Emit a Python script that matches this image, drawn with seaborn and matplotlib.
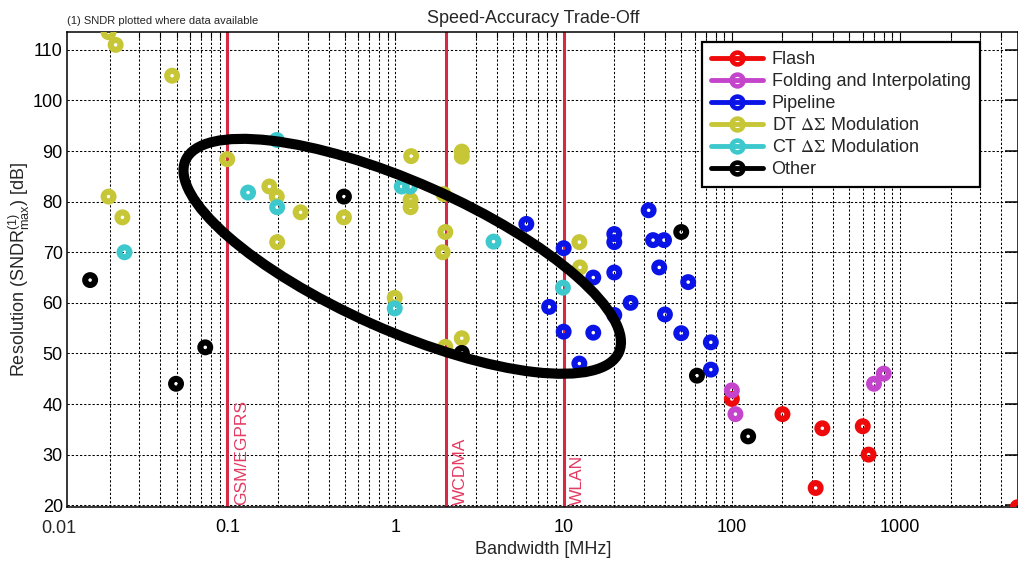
import numpy as np
import pandas as pd
import seaborn as sns
import matplotlib.pyplot as plt
import matplotlib.transforms as mtransforms
from matplotlib.lines import Line2D
from matplotlib.patches import Ellipse
from matplotlib.ticker import LogLocator, NullFormatter

# data: bandwidth [MHz] and resolution [dB]
flash_bw = [100, 200, 345, 315, 600, 650, 5000]
flash_res = [41, 38, 35.2, 23.4, 35.6, 30, 19.6]

fold_bw = [100, 105, 700, 800]
fold_res = [42.7, 38, 44, 46]

pipe_bw = [6, 10, 32, 20, 20, 34, 39.5, 15, 20, 37, 8.2, 25, 20, 40, 10, 15, 12.4, 55, 50, 75, 75]
pipe_res = [75.6, 70.8, 78.3, 73.6, 72, 72.4, 72.4, 65, 66, 67, 59.2, 60, 57.6, 57.7, 54.3, 54.1, 48, 64.1, 54, 52.2, 46.8]

dt_bw = [0.0197, 0.0217, 0.047, 0.1, 0.0197, 0.0238, 0.178, 0.197, 0.273, 0.198, 0.494, 1.24,
         1.23, 1.23, 0.99, 2.48, 2.48, 1.93, 1.98, 1.91, 2.48, 1.98, 12.4, 12.5]
dt_res = [113.5, 111, 104.9, 88.4, 81, 76.9, 83, 81, 77.9, 72, 76.9, 89,
          80.3, 78.9, 61, 89.9, 88.9, 81.5, 74, 70, 53, 51.3, 72, 67]

ct_bw = [0.0245, 0.133, 0.197, 0.198, 1.09, 1.22, 0.99, 3.83, 9.9]
ct_res = [70, 81.8, 92.2, 78.9, 83, 83, 58.9, 72.1, 63]

other_bw = [0.0153, 0.074, 0.0496, 0.494, 2.48, 50, 62, 125]
other_res = [64.5, 51.2, 44, 81, 50.1, 74, 45.6, 33.6]

labels = ['Flash', 'Folding and Interpolating', 'Pipeline',
          'DT $\\Delta\\Sigma$ Modulation', 'CT $\\Delta\\Sigma$ Modulation', 'Other']
colors = ['#ee0a0a', '#c444cc', '#0a14e6', '#c6c636', '#3cc8cc', '#000000']

# standards marked with vertical lines
std_bw = [0.1, 2, 10]
std_names = ['GSM/EGPRS', 'WCDMA', 'WLAN']

# tick labels
xtick_vals = [0.1, 1, 10, 100, 1000]
xtick_labels = ['0.1', '1', '10', '100', '1000']
ytick_vals = list(range(20, 111, 10))

# hand drawn ellipse: centre (MHz, dB)
ell_center = (1.097, 69.2)

all_bw = [flash_bw, fold_bw, pipe_bw, dt_bw, ct_bw, other_bw]
all_res = [flash_res, fold_res, pipe_res, dt_res, ct_res, other_res]
df = pd.concat([pd.DataFrame({'bw': b, 'res': r, 'type': l})
                for b, r, l in zip(all_bw, all_res, labels)], ignore_index=True)

sns.set_theme(style='white')
plt.rcParams['font.family'] = ['Liberation Sans', 'DejaVu Sans']
plt.rcParams['mathtext.fontset'] = 'stix'

fig = plt.figure(figsize=(10.18, 5.62), dpi=100)
ax = fig.add_axes([67 / 1018, (562 - 506.7) / 562, 951.5 / 1018, 475 / 562])
ax.set_xscale('log')
ax.set_xlim(0.01115, 5060)
ax.set_ylim(19.7, 113.6)

# grid
ax.set_axisbelow(True)
gstyle = dict(color='black', linestyle=(0, (2.2, 1.8)), linewidth=0.75)
ax.grid(True, which='both', axis='x', **gstyle)
ax.grid(True, which='major', axis='y', **gstyle)

# standards
for bw, name in zip(std_bw, std_names):
    ax.axvline(bw, color='#d42a44', lw=2.2, zorder=2)
    ax.annotate(name, xy=(bw, 20.1), xytext=(10, 0), textcoords='offset points',
                rotation=90, ha='center', va='bottom', color='#e43a62', fontsize=12.5)

# points: thick ring markers, see-through centre
palette = dict(zip(labels, colors))
sns.scatterplot(data=df, x='bw', y='res', hue='type', palette=palette, hue_order=labels,
                s=50, linewidth=4.4, legend=False, ax=ax, zorder=3)
pts = ax.collections[-1]
pts.set_edgecolors(pts.get_facecolors())
pts.set_facecolors('none')

# ellipse (size given in inches on screen)
ell = Ellipse((0, 0), 4.74, 1.48, angle=-23.9, fill=False, ec='black', lw=7.3,
              transform=fig.dpi_scale_trans + mtransforms.ScaledTranslation(
                  ell_center[0], ell_center[1], ax.transData), zorder=4)
ax.add_patch(ell)

# ticks
ax.set_xticks(xtick_vals)
ax.set_xticklabels(xtick_labels)
ax.xaxis.set_minor_locator(LogLocator(base=10, subs=np.arange(2, 10)))
ax.xaxis.set_minor_formatter(NullFormatter())
ax.set_yticks(ytick_vals)
ax.tick_params(axis='both', which='both', direction='in', top=True, right=True,
               labelsize=13, colors='black')
ax.tick_params(axis='y', which='major', length=9.5, width=1.1, pad=3)
ax.tick_params(axis='x', which='major', length=6, width=0.8, pad=9)
ax.tick_params(axis='x', which='minor', length=4, width=0.8)
ax.text(0.01, -0.027, '0.01', transform=mtransforms.blended_transform_factory(ax.transData, ax.transAxes),
        ha='center', va='top', fontsize=13, clip_on=False)
for sp in ax.spines.values():
    sp.set_color('black')
    sp.set_linewidth(1.1)

ax.set_xlabel('Bandwidth [MHz]', fontsize=13)
ax.xaxis.set_label_coords(0.5, -0.072)
ax.set_ylabel('Resolution (SNDR$_{\\mathregular{max}}^{\\mathregular{(1)}}$) [dB]', fontsize=13)
ax.yaxis.set_label_coords(-0.037, 0.5)
ax.set_title('Speed-Accuracy Trade-Off', fontsize=13, x=0.49, pad=6)
fig.text(67 / 1018, 1 - 21 / 562, '(1) SNDR plotted where data available', fontsize=8, va='center')

# legend
handles = [Line2D([], [], color=c, lw=3.5, marker='o', markersize=8.5, markeredgewidth=3.3,
                  markerfacecolor='none') for c in colors]
leg = ax.legend(handles, labels, loc='upper left', bbox_to_anchor=(702 / 1018, 1 - 42 / 562),
                bbox_transform=fig.transFigure, fontsize=13, handlelength=2.9, handletextpad=0.45,
                borderpad=0.5, labelspacing=0.28, fancybox=False, framealpha=1, borderaxespad=0)
leg.get_frame().set_edgecolor('black')
leg.get_frame().set_linewidth(1.6)

fig.savefig('out.png', dpi=100)
